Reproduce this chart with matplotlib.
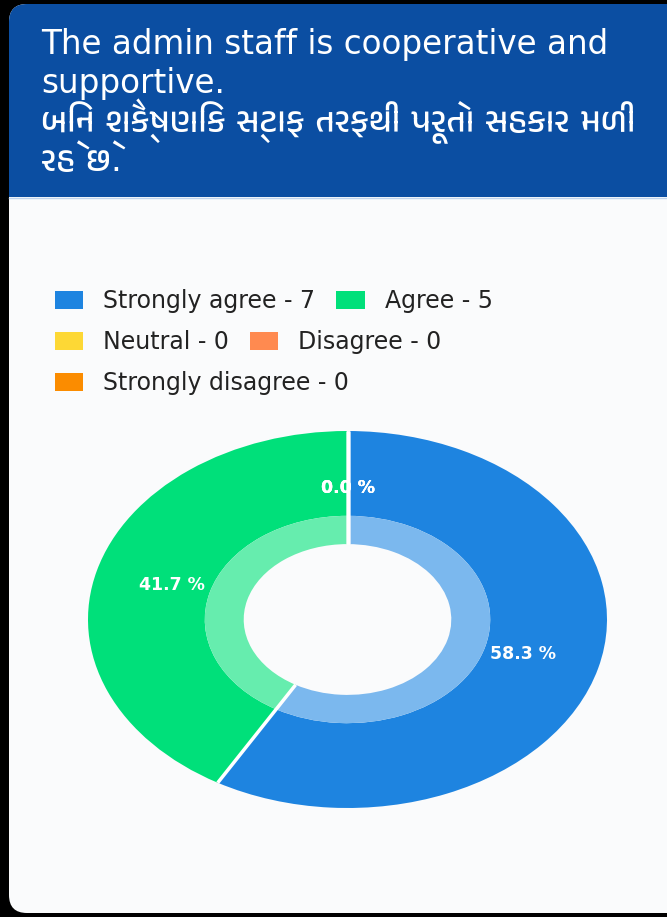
import matplotlib
matplotlib.use("Agg")
import numpy as np
import matplotlib.pyplot as plt
from matplotlib import font_manager
from matplotlib.patches import FancyBboxPatch, Rectangle

# Data
categories = ["Strongly agree", "Agree", "Neutral", "Disagree", "Strongly disagree"]
counts = [7, 5, 0, 0, 0]
colors = ["#1E84E0", "#00E07A", "#FDD835", "#FF8A50", "#FB8C00"]
light_colors = ["#7BB8EE", "#66EDAE", "#FEE787", "#FFB896", "#FCBA66"]
title_lines = ["The admin staff is cooperative and",
               "supportive.",
               "બિન શૈક્ષણિક સ્ટાફ તરફથી પૂરતો સહકાર મળી",
               "રહે છે."]

# look for any font that has Gujarati glyphs
guj = [f.name for f in font_manager.fontManager.ttflist
       if "Gujarati" in f.name or "Lohit" in f.name or "Shruti" in f.name]
fam = ["DejaVu Sans"] + guj[:1]

W, H = 667, 917
fig = plt.figure(figsize=(W / 100, H / 100), dpi=100, facecolor="black")

# background axes in pixel units
bg = fig.add_axes([0, 0, 1, 1])
bg.set_xlim(0, W)
bg.set_ylim(H, 0)
bg.axis("off")

card = FancyBboxPatch((9, 4), 720, 909, boxstyle="round,pad=0,rounding_size=18",
                      facecolor="#FAFBFC", edgecolor="none")
bg.add_patch(card)
head = FancyBboxPatch((9, 4), 720, 193, boxstyle="round,pad=0,rounding_size=18",
                      facecolor="#0B4EA2", edgecolor="none")
bg.add_patch(head)
bg.add_patch(Rectangle((9, 170), 720, 27, facecolor="#0B4EA2", edgecolor="none"))
bg.plot([9, W], [198, 198], color="#BFD4EE", lw=1)

for i, line in enumerate(title_lines):
    fs = 23.5 if i < 2 else 24.5
    bg.text(41, 54 + 39 * i, line, color="white", fontsize=fs, family=fam,
            va="baseline")

# donut
ax = fig.add_axes([88 / W, 1 - 808 / H, 519 / W, 377 / H])
wedges, _, autotexts = ax.pie(
    counts, colors=colors, startangle=90, counterclock=False, radius=1.0,
    autopct="%.1f %%", pctdistance=0.7,
    wedgeprops=dict(width=0.45, linewidth=0),
    textprops=dict(color="white", fontsize=12.5, fontweight="bold", family="DejaVu Sans"))
ax.pie(counts, colors=light_colors, startangle=90, counterclock=False, radius=0.55,
       wedgeprops=dict(width=0.15, linewidth=0))
# white dividers between slices
for w in wedges:
    a = np.deg2rad(w.theta1)
    ax.plot([0.4 * np.cos(a), 1.0 * np.cos(a)], [0.4 * np.sin(a), 1.0 * np.sin(a)],
            color="white", lw=2.5, solid_capstyle="butt", zorder=2)
ax.set_aspect("auto")
ax.set_xlim(-1, 1)
ax.set_ylim(-1, 1)
for w in ax.patches:
    w.set_clip_on(False)

# legend in flowing rows
labels = [f"{c} - {n}" for c, n in zip(categories, counts)]
rows = [[0, 1], [2, 3], [4]]
row_y = [301, 342, 383]
for r, y in zip(rows, row_y):
    handles = [Rectangle((0, 0), 1, 1, facecolor=colors[i], edgecolor="none") for i in r]
    fig.legend(handles, [labels[i] for i in r], loc="center left",
               bbox_to_anchor=(55 / W, 1 - y / H), ncol=len(r), frameon=False,
               prop=dict(family="DejaVu Sans", size=17), handlelength=1.19,
               handleheight=0.8, handletextpad=0.85, columnspacing=0.9,
               borderpad=0, borderaxespad=0, labelcolor="#222222")

fig.savefig("out.png", dpi=100, facecolor="black")
